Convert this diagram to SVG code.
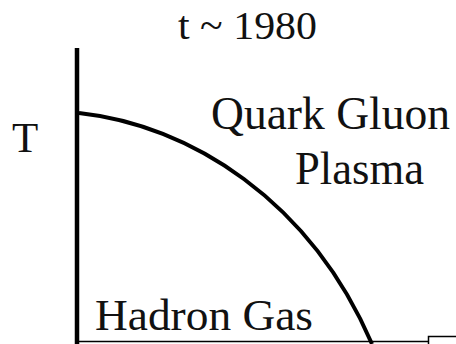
<svg xmlns="http://www.w3.org/2000/svg" width="456" height="344" viewBox="0 0 456 344">
<style>
.lbl{font-family:'Liberation Serif','Times New Roman','DejaVu Serif',serif;fill:#111}
.ax{stroke:#000;fill:none}
</style>
<rect width="456" height="344" fill="#fff"/>
<g id="axes">
<line class="ax" x1="77" y1="48" x2="77" y2="344" stroke-width="4.5"/>
<line class="ax" x1="75" y1="341.5" x2="429" y2="341.5" stroke-width="1.5" stroke="#333"/>
<rect x="428.5" y="336.5" width="40" height="20" fill="#fff" stroke="#000" stroke-width="1.5"/>
</g>
<g id="connectors">
<path class="ax" d="M79,113 C190,125 310,200 372,344" stroke-width="4"/>
</g>
<g id="title"><text class="lbl" x="178" y="39" font-size="40" textLength="139" lengthAdjust="spacingAndGlyphs">t ~ 1980</text></g>
<g id="T"><text class="lbl" x="12" y="152" font-size="43">T</text></g>
<g id="qgp">
<text class="lbl" x="211" y="129" font-size="46" textLength="239" lengthAdjust="spacingAndGlyphs">Quark Gluon</text>
<text class="lbl" x="295" y="184" font-size="46" textLength="129" lengthAdjust="spacingAndGlyphs">Plasma</text>
</g>
<g id="hadron"><text class="lbl" x="95" y="330" font-size="45" textLength="218" lengthAdjust="spacingAndGlyphs">Hadron Gas</text></g>
</svg>
